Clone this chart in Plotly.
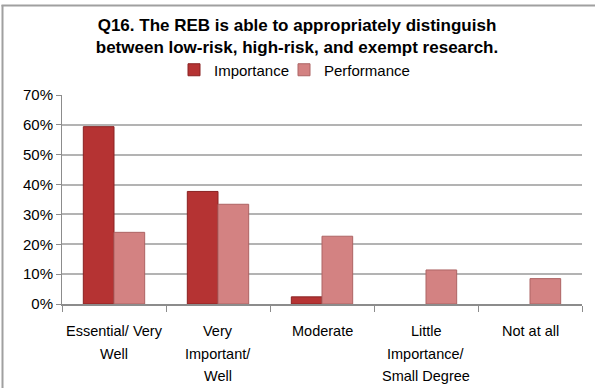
import plotly.graph_objects as go

# Survey question Q16: share of respondents per rating level
categories = [
    "Essential/ Very<br>Well",
    "Very<br>Important/<br>Well",
    "Moderate",
    "Little<br>Importance/<br>Small Degree",
    "Not at all",
]
importance = [0.594, 0.377, 0.024, 0.0, 0.0]
performance = [0.240, 0.334, 0.227, 0.114, 0.085]

y_ticks = [0, 0.1, 0.2, 0.3, 0.4, 0.5, 0.6, 0.7]
y_tick_labels = ["0%", "10%", "20%", "30%", "40%", "50%", "60%", "70%"]

FONT = "Liberation Sans, Arial, sans-serif"

# plot-area geometry in pixels
L, R, T, B = 62, 13, 95, 84
W, H = 595, 388
pw, ph = W - L - R, H - T - B


def px_x(x):
    return (x - L) / pw


def px_y(y):
    return (H - B - y) / ph


def outline_widths(values):
    # no outline on empty bars so they leave no sliver on the axis
    return [1 if v > 0 else 0 for v in values]


fig = go.Figure()
fig.add_trace(go.Bar(
    name="Importance",
    x=categories,
    y=importance,
    legendwidth=65,
    marker=dict(color="#b53333",
                line=dict(color="#8a2222", width=outline_widths(importance))),
))
fig.add_trace(go.Bar(
    name="Performance",
    x=categories,
    y=performance,
    legendwidth=95,
    marker=dict(color="#d38282",
                line=dict(color="#ad6464", width=outline_widths(performance))),
))

# category labels, one text line each so the line spacing stays open
annotations = []
for cat in categories:
    for i, line in enumerate(cat.split("<br>")):
        annotations.append(dict(
            x=cat, xref="x", y=px_y(331 + 22.5 * i), yref="paper",
            text=line, showarrow=False, xanchor="center", yanchor="middle",
            font=dict(family=FONT, size=14.5, color="#000000"),
        ))

fig.update_layout(
    width=W,
    height=H,
    margin=dict(l=L, r=R, t=T, b=B),
    paper_bgcolor="white",
    plot_bgcolor="white",
    barmode="group",
    bargap=0.41,
    bargroupgap=0.0,
    font=dict(family=FONT, size=15, color="#000000"),
    title=dict(
        text="<b>Q16. The REB is able to appropriately distinguish<br>between low-risk, high-risk, and exempt research.</b>",
        x=297 / W,
        xanchor="center",
        y=1 - 31 / H,
        yanchor="middle",
        font=dict(family=FONT, size=17, color="#000000"),
    ),
    legend=dict(
        orientation="h",
        x=px_x(174),
        xanchor="left",
        y=px_y(70),
        yanchor="middle",
        font=dict(family=FONT, size=15),
        itemwidth=30,
        traceorder="normal",
    ),
    xaxis=dict(
        showline=True,
        linecolor="#8c8c8c",
        linewidth=2,
        ticks="outside",
        tickson="boundaries",
        ticklen=6,
        tickcolor="#8c8c8c",
        tickwidth=1,
        showgrid=False,
        showticklabels=False,
    ),
    yaxis=dict(
        range=[0, 0.7],
        tickvals=y_ticks,
        ticktext=y_tick_labels,
        showline=True,
        linecolor="#8c8c8c",
        linewidth=1,
        ticks="outside",
        ticklen=5,
        tickcolor="#8c8c8c",
        showgrid=True,
        gridcolor="#b3b3b3",
        gridwidth=1.5,
        zeroline=False,
        tickfont=dict(family=FONT, size=15),
    ),
    annotations=annotations,
    shapes=[
        dict(type="line", xref="paper", yref="paper",
             x0=px_x(2.5), x1=px_x(2.5), y0=px_y(5), y1=px_y(H + 2),
             line=dict(color="#a0a0a0", width=2)),
        dict(type="line", xref="paper", yref="paper",
             x0=px_x(1.5), x1=px_x(W + 2), y0=px_y(5.5), y1=px_y(5.5),
             line=dict(color="#a0a0a0", width=2)),
    ],
)

fig.write_html("out.html")
